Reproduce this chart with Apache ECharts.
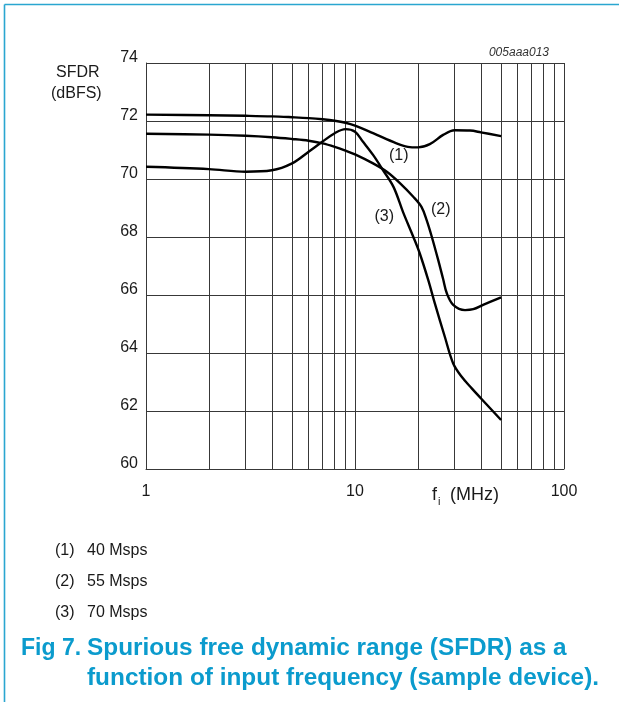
<!DOCTYPE html>
<html>
<head>
<meta charset="utf-8">
<script src="https://cdn.jsdelivr.net/npm/echarts@6/dist/echarts.min.js"></script>
<style>
  html, body { margin: 0; padding: 0; background: #fff; }
  #chart { width: 619px; height: 702px; }
</style>
</head>
<body>
<div id="chart"></div>
<script>
// SFDR versus input frequency, three sample rates
const freq40 = [1, 2, 3, 4, 5, 6, 7, 8, 9, 10, 12.2, 15.8, 17.9, 20, 22.8, 26.4, 30, 35.5, 40, 50];
const sfdr40 = [72.22, 72.20, 72.18, 72.16, 72.13, 72.10, 72.06, 72.01, 71.94, 71.84, 71.58, 71.23, 71.11, 71.09, 71.20, 71.52, 71.68, 71.67, 71.61, 71.48];

const freq55 = [1, 2, 3, 4, 5, 6, 7, 8, 9, 10, 12.2, 14.2, 16.4, 19, 20.8, 22, 23.3, 25, 26.4, 27.5, 29.5, 33.6, 36.8, 41, 50];
const sfdr55 = [71.56, 71.53, 71.49, 71.44, 71.38, 71.32, 71.23, 71.11, 70.98, 70.85, 70.54, 70.25, 69.86, 69.39, 69.04, 68.59, 68.01, 67.21, 66.55, 66.06, 65.66, 65.48, 65.51, 65.66, 65.92];

const freq70 = [1, 2, 3, 4, 5, 6, 7, 8, 9, 10, 10.9, 12.2, 13.6, 15.3, 17, 19, 20.4, 22.4, 24.1, 26.9, 29.5, 32.4, 36.2, 40, 50];
const sfdr70 = [70.42, 70.34, 70.25, 70.30, 70.54, 70.94, 71.29, 71.58, 71.72, 71.63, 71.29, 70.83, 70.31, 69.72, 68.85, 68.01, 67.44, 66.52, 65.71, 64.56, 63.64, 63.18, 62.78, 62.44, 61.69];

// intermediate log-decade grid lines
const minorFreqs = [2, 3, 4, 5, 6, 7, 8, 9, 20, 30, 40, 50, 60, 70, 80, 90];

// curve tags: [frequency, SFDR, text]
const curveTags = [
  [16.2, 70.79, '(1)'],
  [25.7, 68.93, '(2)'],
  [13.8, 68.72, '(3)']
];

const legendKeys = ['(1)', '(2)', '(3)'];
const legendTexts = ['40 Msps', '55 Msps', '70 Msps'];

const captionLabel = 'Fig 7.';
const captionLines = [
  'Spurious free dynamic range (SFDR) as a',
  'function of input frequency (sample device).'
];

const FONT = '"Liberation Sans", Arial, Helvetica, sans-serif';
const GRID_COLOR = '#383838';
const TEXT_COLOR = '#1a1a1a';
const CAPTION_BLUE = '#0b9bcd';

function pairs(xs, ys) { return xs.map((x, i) => [x, ys[i]]); }

function curve(name, xs, ys) {
  return {
    name: name,
    type: 'line',
    data: pairs(xs, ys),
    smooth: 0.35,
    showSymbol: false,
    symbol: 'none',
    z: 5,
    lineStyle: { color: '#000', width: 2.4 },
    silent: true
  };
}

const chart = echarts.init(document.getElementById('chart'), null, { renderer: 'canvas' });

const legendGraphics = [];
legendKeys.forEach((k, i) => {
  const y = 552 + i * 31;
  legendGraphics.push({
    type: 'text', left: 55, top: y - 9,
    style: { text: k, font: '16px ' + FONT, fill: TEXT_COLOR }
  });
  legendGraphics.push({
    type: 'text', left: 87, top: y - 9,
    style: { text: legendTexts[i], font: '16px ' + FONT, fill: TEXT_COLOR }
  });
});

// caption set in a slightly wide bold face
const captionGraphics = [
  { type: 'text', x: 21, y: 637, style: { text: captionLabel, font: 'bold 23px ' + FONT, fill: CAPTION_BLUE } }
].concat(captionLines.map((t, i) => ({
  type: 'text', x: 87, y: 637 + i * 30, scaleX: 1.06,
  style: { text: t, font: 'bold 23px ' + FONT, fill: CAPTION_BLUE }
})));

chart.setOption({
  animation: false,
  backgroundColor: '#fff',
  grid: { left: 146, top: 63, width: 418, height: 406, containLabel: false },
  xAxis: {
    type: 'log',
    logBase: 10,
    min: 1,
    max: 100,
    axisLine: { show: true, lineStyle: { color: GRID_COLOR, width: 1 } },
    axisTick: { show: false },
    axisLabel: { fontSize: 16, fontFamily: FONT, color: TEXT_COLOR, margin: 15 },
    splitLine: { show: true, lineStyle: { color: GRID_COLOR, width: 1 } }
  },
  yAxis: {
    type: 'value',
    min: 60,
    max: 74,
    interval: 2,
    axisLine: { show: true, lineStyle: { color: GRID_COLOR, width: 1 } },
    axisTick: { show: false },
    axisLabel: {
      fontSize: 16, fontFamily: FONT, color: TEXT_COLOR, margin: 8,
      verticalAlign: 'bottom', lineHeight: 10
    },
    splitLine: { show: true, lineStyle: { color: GRID_COLOR, width: 1 } }
  },
  series: [
    {
      name: 'grid',
      type: 'line',
      data: [[1, 60]],
      showSymbol: false,
      symbol: 'none',
      lineStyle: { width: 0 },
      z: 1,
      silent: true,
      markLine: {
        silent: true,
        symbol: ['none', 'none'],
        label: { show: false },
        lineStyle: { color: GRID_COLOR, width: 1, type: 'solid' },
        data: minorFreqs.map(f => ({ xAxis: f }))
      }
    },
    curve('40 Msps', freq40, sfdr40),
    curve('55 Msps', freq55, sfdr55),
    curve('70 Msps', freq70, sfdr70),
    {
      name: 'tags',
      type: 'scatter',
      data: curveTags.map(t => ({ value: [t[0], t[1]], name: t[2] })),
      symbolSize: 0,
      z: 6,
      silent: true,
      itemStyle: { opacity: 1 },
      label: {
        show: true,
        position: 'inside',
        formatter: p => p.name,
        fontSize: 16,
        fontFamily: FONT,
        color: TEXT_COLOR,
        opacity: 1,
        textBorderWidth: 0
      }
    }
  ],
  graphic: [
    // page frame
    { type: 'line', shape: { x1: 4.5, y1: 4.5, x2: 619, y2: 4.5 }, style: { stroke: '#2aa6d0', lineWidth: 1.6 } },
    { type: 'line', shape: { x1: 4.5, y1: 4.5, x2: 4.5, y2: 702 }, style: { stroke: '#2aa6d0', lineWidth: 1.6 } },
    // axis titles
    { type: 'text', left: 56, top: 65, style: { text: 'SFDR', font: '16px ' + FONT, fill: TEXT_COLOR } },
    { type: 'text', left: 51, top: 86, style: { text: '(dBFS)', font: '16px ' + FONT, fill: TEXT_COLOR } },
    { type: 'text', left: 432, top: 486, style: { text: 'f', font: '18px ' + FONT, fill: TEXT_COLOR } },
    { type: 'text', left: 438, top: 496, style: { text: 'i', font: '11px ' + FONT, fill: TEXT_COLOR } },
    { type: 'text', left: 450, top: 486, style: { text: '(MHz)', font: '18px ' + FONT, fill: TEXT_COLOR } },
    // drawing id
    { type: 'text', right: 70, top: 47, style: { text: '005aaa013', font: 'italic 12px ' + FONT, fill: '#333' } },
    ...legendGraphics,
    ...captionGraphics
  ]
});
</script>
</body>
</html>
